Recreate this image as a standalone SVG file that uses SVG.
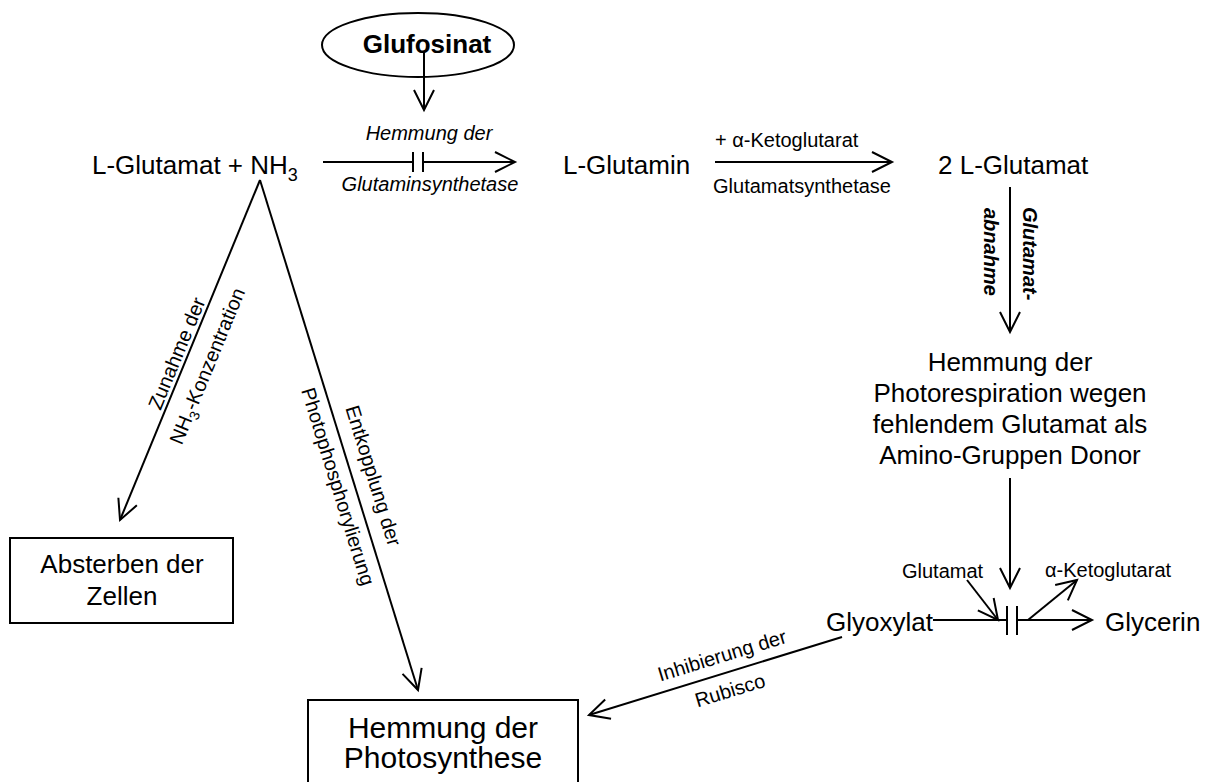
<svg xmlns="http://www.w3.org/2000/svg" width="1209" height="782" viewBox="0 0 1209 782">
<defs>
<marker id="arr" markerUnits="userSpaceOnUse" markerWidth="30" markerHeight="30" refX="0" refY="0" orient="auto" overflow="visible">
<path d="M-20,-10 L0,0 L-20,10" fill="none" stroke="#000" stroke-width="2"/>
</marker>
<style>
text{font-family:"Liberation Sans",Arial,sans-serif;fill:#000}
.m{font-size:26px}
.big{font-size:30px}
.l{font-size:20px}
.i{font-style:italic}
.bi{font-style:italic;font-weight:bold}
.c{text-anchor:middle}
.ln{stroke:#000;stroke-width:2;fill:none}
.box{stroke:#000;stroke-width:2;fill:#fff}
</style>
</defs>
<rect width="1209" height="782" fill="#fff"/>

<g id="connectors">
<line class="ln" x1="424" y1="52" x2="424" y2="110" marker-end="url(#arr)"/>
<line class="ln" x1="323" y1="162" x2="413" y2="162"/>
<line class="ln" x1="413" y1="152" x2="413" y2="172"/>
<line class="ln" x1="423" y1="152" x2="423" y2="172"/>
<line class="ln" x1="423" y1="162" x2="515" y2="162" marker-end="url(#arr)"/>
<line class="ln" x1="715" y1="162" x2="892" y2="162" marker-end="url(#arr)"/>
<line class="ln" x1="1010" y1="187" x2="1010" y2="332" marker-end="url(#arr)"/>
<line class="ln" x1="1010" y1="478" x2="1010" y2="588" marker-end="url(#arr)"/>
<line class="ln" x1="933" y1="620" x2="1007" y2="620"/>
<line class="ln" x1="1007" y1="606" x2="1007" y2="635"/>
<line class="ln" x1="1017" y1="606" x2="1017" y2="635"/>
<line class="ln" x1="1017" y1="620" x2="1092" y2="620" marker-end="url(#arr)"/>
<line class="ln" x1="967" y1="580" x2="998" y2="620" marker-end="url(#arr)"/>
<line class="ln" x1="1028" y1="620" x2="1077" y2="580" marker-end="url(#arr)"/>
<line class="ln" x1="842" y1="637" x2="589" y2="715" marker-end="url(#arr)"/>
<line class="ln" x1="260" y1="180" x2="120" y2="520" marker-end="url(#arr)"/>
<line class="ln" x1="260" y1="180" x2="418" y2="690" marker-end="url(#arr)"/>
</g>

<g id="glufosinat">
<ellipse class="ln" cx="418" cy="45" rx="96" ry="32"/>
<text x="427" y="53" class="c" style="font-size:26px;font-weight:bold">Glufosinat</text>
</g>

<g id="label-gs">
<text x="429" y="140" class="l i c">Hemmung der</text>
<text x="430" y="191" class="l i c">Glutaminsynthetase</text>
</g>

<g id="glutamat-nh3">
<text x="92" y="174" class="m">L-Glutamat + NH<tspan font-size="18" dy="7">3</tspan></text>
</g>

<g id="glutamin">
<text x="563" y="174" class="m">L-Glutamin</text>
</g>

<g id="label-gogat">
<text x="715" y="147" class="l">+ α-Ketoglutarat</text>
<text x="802" y="193" class="l c">Glutamatsynthetase</text>
</g>

<g id="glutamat2">
<text x="938" y="174" class="m">2 L-Glutamat</text>
</g>

<g id="label-abnahme">
<text transform="translate(1023,207) rotate(90)" class="l bi">Glutamat-</text>
<text transform="translate(984,208) rotate(90)" class="l bi">abnahme</text>
</g>

<g id="photorespiration">
<text x="1010" y="371" class="m c">Hemmung der</text>
<text x="1010" y="402" class="m c">Photorespiration wegen</text>
<text x="1010" y="433" class="m c">fehlendem Glutamat als</text>
<text x="1010" y="464" class="m c">Amino-Gruppen Donor</text>
</g>

<g id="glyoxylat">
<text x="933" y="631" class="m" text-anchor="end">Glyoxylat</text>
</g>

<g id="glycerin">
<text x="1105" y="631" class="m">Glycerin</text>
</g>

<g id="label-glutamat">
<text x="902" y="578" class="l">Glutamat</text>
</g>

<g id="label-ketoglutarat">
<text x="1045" y="577" class="l">α-Ketoglutarat</text>
</g>

<g id="label-rubisco">
<text transform="translate(724,662) rotate(-17)" class="l c">Inhibierung der</text>
<text transform="translate(732,697) rotate(-17)" class="l c">Rubisco</text>
</g>

<g id="label-nh3">
<g transform="translate(186.8,357.6) rotate(-67.6)">
<text x="0" y="-4" class="l c">Zunahme der</text>
<text x="0" y="29" class="l c">NH<tspan font-size="14" dy="5">3</tspan><tspan dy="-5">-Konzentration</tspan></text>
</g>
</g>

<g id="label-entkopplung">
<g transform="translate(353.5,481.8) rotate(72.8)">
<text x="0" y="-14" class="l c">Entkopplung der</text>
<text x="0" y="23" class="l c">Photophosphorylierung</text>
</g>
</g>

<g id="absterben">
<rect class="box" x="10" y="538" width="223" height="85"/>
<text x="122" y="573" class="m c">Absterben der</text>
<text x="122" y="605" class="m c">Zellen</text>
</g>

<g id="photosynthese">
<rect class="box" x="308" y="700" width="270" height="95"/>
<text x="443" y="738" class="big c">Hemmung der</text>
<text x="443" y="768" class="big c">Photosynthese</text>
</g>
</svg>
